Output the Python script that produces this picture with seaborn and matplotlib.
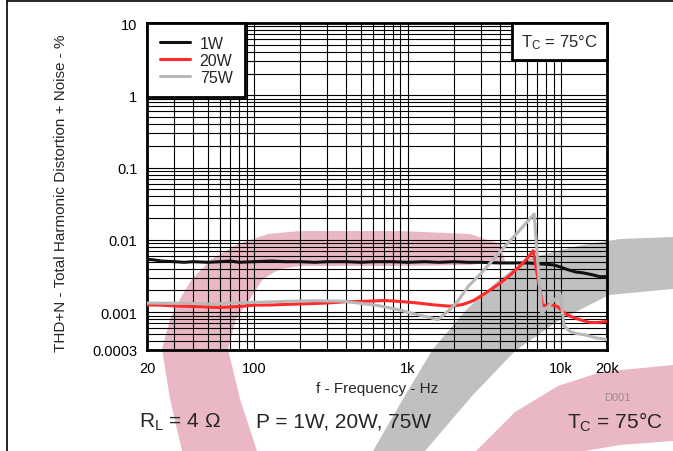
import numpy as np
import pandas as pd
import matplotlib
matplotlib.use("Agg")
import matplotlib.pyplot as plt
from matplotlib.patches import Polygon
from matplotlib.lines import Line2D
from matplotlib.offsetbox import AnchoredText
from matplotlib.ticker import LogLocator, NullFormatter
import seaborn as sns

# --- data (f in Hz, THD+N in %) ---
freq_1w = [20, 22, 25, 30, 35, 40, 50, 60, 70, 80, 100, 130, 160, 200, 250, 300, 400, 500,
           600, 800, 1000, 1300, 1600, 2000, 2500, 3000, 4000, 5000, 6000, 7000, 8000, 9000,
           10000, 11000, 12500, 14000, 16000, 18000, 20000]
thd_1w = [0.0054, 0.0053, 0.0051, 0.0050, 0.0049, 0.0050, 0.0049, 0.0050, 0.0051, 0.0049,
          0.0050, 0.0051, 0.0050, 0.0050, 0.0049, 0.0050, 0.0050, 0.0049, 0.0050, 0.0050,
          0.0049, 0.0050, 0.0049, 0.0050, 0.0049, 0.0049, 0.0048, 0.0048, 0.0048, 0.0047,
          0.0046, 0.0045, 0.0042, 0.0039, 0.0036, 0.0035, 0.0033, 0.0031, 0.0031]

freq_20w = [20, 25, 30, 40, 50, 60, 80, 100, 130, 160, 200, 250, 300, 400, 500, 600, 700,
            800, 1000, 1200, 1500, 1900, 2300, 2700, 3300, 4000, 4700, 5500, 6100, 6600,
            7600, 8500, 9500, 10300, 11500, 13000, 15500, 17500, 20000]
thd_20w = [0.00126, 0.00125, 0.00122, 0.00120, 0.00118, 0.00116, 0.00120, 0.00125, 0.00126,
           0.00128, 0.00130, 0.00132, 0.00134, 0.00140, 0.00141, 0.00143, 0.00145, 0.00143,
           0.00138, 0.00133, 0.00126, 0.00121, 0.00128, 0.00145, 0.00190, 0.00250, 0.00330,
           0.00450, 0.00570, 0.00710, 0.00123, 0.00128, 0.00120, 0.00101, 0.00088, 0.00080,
           0.00072, 0.00072, 0.00075]

freq_75w = [20, 25, 30, 40, 50, 55, 60, 80, 100, 130, 160, 200, 250, 300, 380, 450, 530,
            620, 720, 850, 1000, 1150, 1350, 1580, 1900, 2100, 2500, 3000, 4000, 5000, 6700,
            7500, 9900, 10500, 11500, 12500, 14800, 17000, 20000]
thd_75w = [0.00134, 0.00133, 0.00133, 0.00132, 0.00130, 0.00128, 0.00132, 0.00135, 0.00137,
           0.00139, 0.00141, 0.00143, 0.00144, 0.00143, 0.00142, 0.00136, 0.00130, 0.00125,
           0.00118, 0.00110, 0.00100, 0.00093, 0.00086, 0.00079, 0.00110, 0.00137, 0.00230,
           0.00340, 0.00680, 0.01140, 0.02280, 0.00096, 0.00180, 0.00064, 0.00054, 0.00051,
           0.00048, 0.00044, 0.00042]

series_labels = ["1W", "20W", "75W"]
series_colors = ["#111111", "#FF2B2B", "#B8B8B8"]

xticks = [20, 100, 1000, 10000, 20000]
xtick_labels = ["20", "100", "1k", "10k", "20k"]
yticks = [10, 1, 0.1, 0.01, 0.001, 0.0003]
ytick_labels = ["10", "1", "0.1", "0.01", "0.001", "0.0003"]

df = pd.concat([
    pd.DataFrame({"f": freq_1w, "thd": thd_1w, "P": "1W"}),
    pd.DataFrame({"f": freq_20w, "thd": thd_20w, "P": "20W"}),
    pd.DataFrame({"f": freq_75w, "thd": thd_75w, "P": "75W"}),
])

sns.set_style("white")
plt.rcParams["font.family"] = ["Liberation Sans", "DejaVu Sans"]
plt.rcParams["mathtext.default"] = "regular"

W, H = 673, 452
fig = plt.figure(figsize=(W / 100, H / 100), dpi=100)
fig.patch.set_facecolor("white")


def px(pts):
    # pixel coords (from top-left) -> figure fraction
    return [(x / W, 1 - y / H) for x, y in pts]


# background watermark shapes
pink = "#EAB8C4"
grey = "#C0C0C0"
wm_pink_arc = [(182, 452), (170, 400), (162, 350), (170, 320), (180, 300), (192, 280),
               (212, 260), (238, 245), (268, 235), (300, 232), (400, 232), (470, 235),
               (500, 245), (505, 262), (470, 266), (400, 267), (300, 267), (280, 270),
               (263, 280), (250, 300), (236, 320), (228, 350), (240, 400), (257, 452)]
wm_grey_arc = [(373, 452), (403, 400), (433, 350), (467, 310), (500, 280), (527, 260),
               (577, 247), (620, 240), (673, 238), (673, 290), (609, 296), (558, 322),
               (515, 352), (472, 397), (425, 452)]
wm_pink_low = [(476, 452), (515, 413), (558, 387), (601, 373), (673, 366), (673, 442),
               (620, 446), (585, 452)]
for pts, col in [(wm_pink_arc, pink), (wm_grey_arc, grey), (wm_pink_low, pink)]:
    fig.add_artist(Polygon(px(pts), closed=True, transform=fig.transFigure,
                           facecolor=col, edgecolor="none", zorder=-1))

# thin frame at top and left edge
fig.add_artist(Line2D([7 / W, 1], [1 - 2 / H, 1 - 2 / H], transform=fig.transFigure,
                      color="black", lw=1.2))
fig.add_artist(Line2D([7 / W, 7 / W], [0, 1 - 2 / H], transform=fig.transFigure,
                      color="black", lw=1.2))

ax = fig.add_axes([147 / W, 1 - 351 / H, 460 / W, 327 / H])
ax.set_facecolor("none")

for lab, col in zip(series_labels, series_colors):
    sub = df[df["P"] == lab]
    sns.lineplot(data=sub, x="f", y="thd", color=col, lw=2.2, label=lab,
                 estimator=None, sort=False, ax=ax, zorder=3)

ax.set_xscale("log")
ax.set_yscale("log")
ax.set_xlim(20, 20000)
ax.set_ylim(0.0003, 10)
ax.set_xticks(xticks)
ax.set_xticklabels(xtick_labels)
ax.set_yticks(yticks)
ax.set_yticklabels(ytick_labels)
ax.xaxis.set_minor_locator(LogLocator(base=10, subs=np.arange(2, 10)))
ax.yaxis.set_minor_locator(LogLocator(base=10, subs=np.arange(2, 10)))
ax.xaxis.set_minor_formatter(NullFormatter())
ax.yaxis.set_minor_formatter(NullFormatter())
ax.tick_params(which="both", length=0, labelsize=10.5, colors="black")
ax.tick_params(axis="x", pad=8)
ax.tick_params(axis="y", pad=7)
ax.grid(True, which="both", color="black", lw=0.8)
ax.set_axisbelow(True)
for sp in ax.spines.values():
    sp.set_color("black")
    sp.set_linewidth(2.0)

ax.set_xlabel("f - Frequency - Hz", fontsize=11, labelpad=4)
ax.set_ylabel("")
fig.text(61 / W, 1 - 193 / H, "THD+N - Total Harmonic Distortion + Noise - %",
         rotation=90, ha="center", va="center", fontsize=11)

leg = ax.legend(loc="upper left", borderaxespad=0, frameon=True, fancybox=False,
                edgecolor="black", framealpha=1, fontsize=11.5, handlelength=1.9,
                borderpad=0.8, labelspacing=0.12, handletextpad=0.6)
leg.get_frame().set_linewidth(2.0)

tc = AnchoredText("T$_{C}$ = 75°C", loc="upper right", borderpad=0, pad=0.55,
                  prop=dict(size=12), frameon=True)
tc.patch.set_linewidth(2.0)
tc.patch.set_edgecolor("black")
ax.add_artist(tc)

fig.text(139 / W, 1 - 422 / H, "R$_{L}$ = 4 Ω", fontsize=15, ha="left", va="center")
fig.text(256 / W, 1 - 422 / H, "P = 1W, 20W, 75W", fontsize=15, ha="left", va="center")
fig.text(663 / W, 1 - 422 / H, "T$_{C}$ = 75°C", fontsize=15, ha="right", va="center")
fig.text(617 / W, 1 - 398 / H, "D001", fontsize=8, color="#9A8C90", ha="center", va="center")

fig.savefig("out.png", dpi=100)
